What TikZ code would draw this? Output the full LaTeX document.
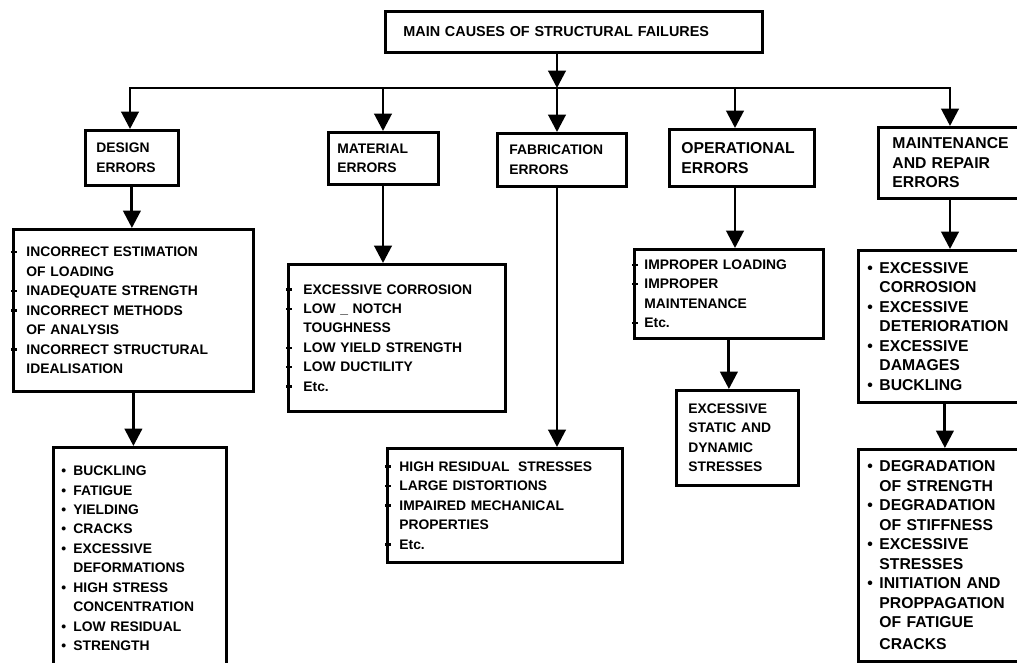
\documentclass[tikz,border=0pt]{standalone}
\usepackage{fontspec}
\setmainfont{Liberation Sans}
\usetikzlibrary{arrows.meta}
\usetikzlibrary{positioning}

\newcommand{\smallfnt}{\fontsize{10.4}{14.6}\selectfont\bfseries}
\newcommand{\bigfnt}{\fontsize{11.8}{14.6}\selectfont\bfseries}
\newcommand{\bordtick}[1][9pt]{\leavevmode\llap{\makebox[#1][l]{\hspace{-1.5pt}\rule[2.6pt]{4pt}{1.8pt}}}}
\newcommand{\lbul}{\makebox[9pt][l]{\textbullet}}
\newcommand{\nbul}{\leavevmode\hspace*{9pt}}

\begin{document}
\begin{tikzpicture}[x=0.75pt,y=-0.75pt,
  box/.style={draw,line width=2.1pt,rectangle,anchor=north west,align=left,inner ysep=0pt,font=\smallfnt},
  bigbox/.style={box,font=\bigfnt},
  arr/.style={line width=2.2pt,-{Triangle[width=13pt,length=13pt]}}]
\useasboundingbox (0,0) rectangle (1017,663);
\clip (0,0) rectangle (1017,663);

\node[box,font=\fontsize{10.8}{13}\selectfont\bfseries,inner xsep=13.5pt,text width=255.75pt,minimum height=30.75pt] (title) at (384,10) {MAIN CAUSES OF STRUCTURAL FAILURES};

\node[box,inner xsep=8.25pt,text width=53.25pt,minimum height=41.25pt] (design) at (84,129) {DESIGN\\ERRORS};
\node[box,inner xsep=6.75pt,text width=69pt,minimum height=39pt] (material) at (327,131) {MATERIAL\\ERRORS};
\node[box,inner xsep=9pt,text width=78.75pt,minimum height=39.75pt] (fabric) at (496,132) {FABRICATION\\ERRORS};
\node[bigbox,inner xsep=9pt,text width=90.75pt,minimum height=42.75pt] (operat) at (668,128) {OPERATIONAL\\ERRORS};
\node[bigbox,inner xsep=10.5pt,text width=93.75pt,minimum height=53.25pt] (maint) at (877,126) {MAINTENANCE\\AND REPAIR\\ERRORS};

\node[box,inner xsep=9.75pt,text width=160.5pt,minimum height=121.5pt] (deslist) at (12,228) {\bordtick[9.75pt]INCORRECT ESTIMATION\\OF LOADING\\\bordtick[9.75pt]INADEQUATE STRENGTH\\\bordtick[9.75pt]INCORRECT METHODS\\OF ANALYSIS\\\bordtick[9.75pt]INCORRECT STRUCTURAL\\IDEALISATION};
\node[box,inner xsep=11.25pt,text width=140.25pt,minimum height=110.25pt] (matlist) at (287,263) {\bordtick[11.25pt]EXCESSIVE CORROSION\\\bordtick[11.25pt]LOW \_ NOTCH\\TOUGHNESS\\\bordtick[11.25pt]LOW YIELD STRENGTH\\\bordtick[11.25pt]LOW DUCTILITY\\\bordtick[11.25pt]Etc.};
\node[box,inner xsep=9pt,text width=158.25pt,minimum height=85.5pt] (fablist) at (386,447) {\bordtick HIGH RESIDUAL\hspace{3pt} STRESSES\\\bordtick LARGE DISTORTIONS\\\bordtick IMPAIRED MECHANICAL\\PROPERTIES\\\bordtick Etc.};
\node[box,inner xsep=7.5pt,text width=126.75pt,minimum height=66.75pt] (oplist) at (633,248) {\bordtick[7.5pt]IMPROPER LOADING\\\bordtick[7.5pt]IMPROPER\\MAINTENANCE\\\bordtick[7.5pt]Etc.};
\node[box,inner xsep=9pt,text width=73.5pt,minimum height=71.25pt] (opsub) at (675,389) {EXCESSIVE\\STATIC AND\\DYNAMIC\\STRESSES};
\node[bigbox,inner xsep=6.75pt,text width=116.25pt,minimum height=114pt] (mtlist) at (857,249) {\lbul EXCESSIVE\\\nbul CORROSION\\\lbul EXCESSIVE\\\nbul DETERIORATION\\\lbul EXCESSIVE\\\nbul DAMAGES\\\lbul BUCKLING};
\node[bigbox,inner xsep=6.75pt,text width=116.25pt,minimum height=159pt] (mtsub) at (857,448) {\lbul DEGRADATION\\\nbul OF STRENGTH\\\lbul DEGRADATION\\\nbul OF STIFFNESS\\\lbul EXCESSIVE\\\nbul STRESSES\\\lbul INITIATION AND\\\nbul PROPPAGATION\\\nbul OF FATIGUE\\[2pt]\nbul CRACKS};
\node[box,inner xsep=6pt,text width=117.75pt,minimum height=166.5pt] (dessub) at (52,446) {\lbul BUCKLING\\\lbul FATIGUE\\\lbul YIELDING\\\lbul CRACKS\\\lbul EXCESSIVE\\\nbul DEFORMATIONS\\\lbul HIGH STRESS\\\nbul CONCENTRATION\\\lbul LOW RESIDUAL\\\lbul STRENGTH};

\coordinate (b1) at (130,88);
\coordinate (b2) at (383,88);
\coordinate (bf) at (557,88);
\coordinate (b4) at (735,88);
\coordinate (b5) at (950,88);

\draw[arr] (bf |- title.south) -- (bf);
\draw[line width=2.2pt,line cap=rect] (b1) -- (b5);
\draw[arr] (b1) -- (b1 |- design.north);
\draw[arr] (b2) -- (b2 |- material.north);
\draw[arr] (bf) -- (bf |- fabric.north);
\draw[arr] (b4) -- (b4 |- operat.north);
\draw[arr] (b5) -- (b5 |- maint.north);

\draw[arr] (design.south) -- (design.south |- deslist.north);
\draw[arr] (deslist.south) -- (deslist.south |- dessub.north);
\draw[arr] (b2 |- material.south) -- (b2 |- matlist.north);
\draw[arr] (bf |- fabric.south) -- (bf |- fablist.north);
\draw[arr] (b4 |- operat.south) -- (b4 |- oplist.north);
\draw[arr] (oplist.south) -- (oplist.south |- opsub.north);
\draw[arr] (b5 |- maint.south) -- (b5 |- mtlist.north);
\draw[arr] (mtlist.south) -- (mtlist.south |- mtsub.north);

\end{tikzpicture}
\end{document}
